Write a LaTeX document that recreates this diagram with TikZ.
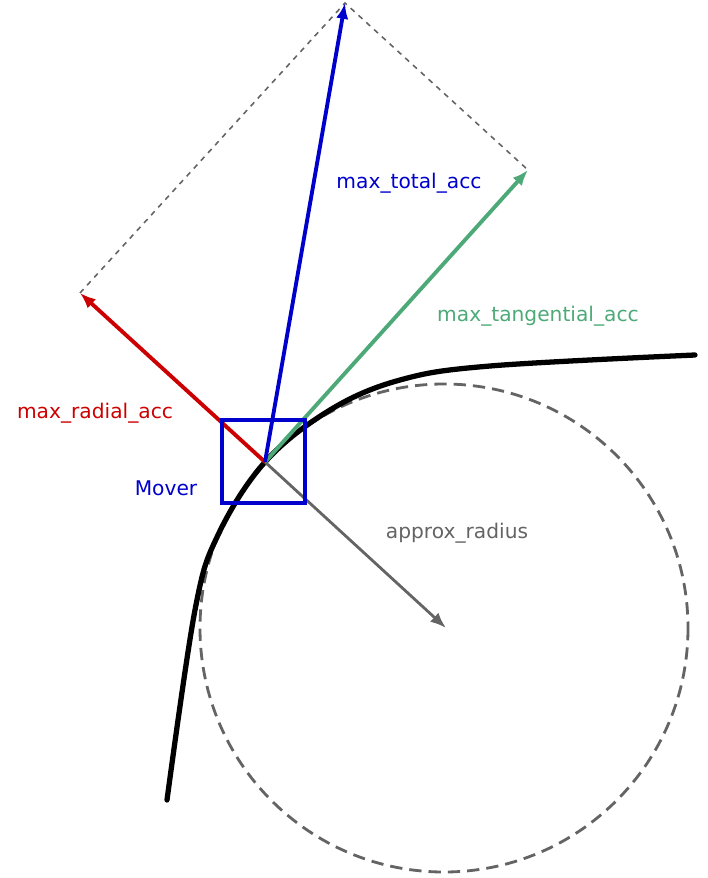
\documentclass[tikz,border=0pt]{standalone}
\usepackage{fontspec}
\setmainfont{DejaVu Sans}
\usetikzlibrary{arrows.meta}
\definecolor{accred}{RGB}{204,0,0}
\definecolor{accgreen}{RGB}{77,170,120}
\definecolor{accblue}{RGB}{0,0,204}
\definecolor{accgray}{RGB}{100,100,100}

\begin{document}
\begin{tikzpicture}[x=0.02cm,y=-0.02cm,
  vec/.style={line width=2.2pt, -{Latex[length=9pt,width=7pt]}},
  lbl/.style={font=\fontsize{11.5}{13}\selectfont}]
\useasboundingbox (0,0) rectangle (707,878);

\coordinate (c) at (265,462);
\coordinate (r) at (80,293);
\coordinate (t) at (528,170);
\coordinate (s) at (345,3);
\coordinate (m) at (446,628);

% circle and path
\draw [accgray, line width=1.6pt, dash pattern=on 7pt off 4pt]
(444,628) circle [radius=244];
\draw [line width=3pt, line cap=round]
plot [smooth, tension=.6] coordinates
{(167,800) (195,610) (218,535) (265,462) (330,410) (400,380) (490,366) (695,355)};

% parallelogram
\draw [accgray, dashed, line width=.9pt] (r) -- (s) -- (t);

\draw [vec, accgray, line width=1.6pt] (c) -- (m);
\draw [vec, accred] (c) -- (r);
\draw [vec, accgreen] (c) -- (t);
\draw [vec, accblue] (c) -- (s);

\draw [accblue, line width=2.4pt] (222,420) rectangle (305,503);

\node [lbl, accblue] (total) at (409,183) {max\_total\_acc};
\node [lbl, accgreen] (tang) at (538,316) {max\_tangential\_acc};
\node [lbl, accred] (rad) at (95,413) {max\_radial\_acc};
\node [lbl, accblue] (mover) at (166,488) {Mover};
\node [lbl, accgray] (radius) at (457,533) {approx\_radius};
\end{tikzpicture}
\end{document}
